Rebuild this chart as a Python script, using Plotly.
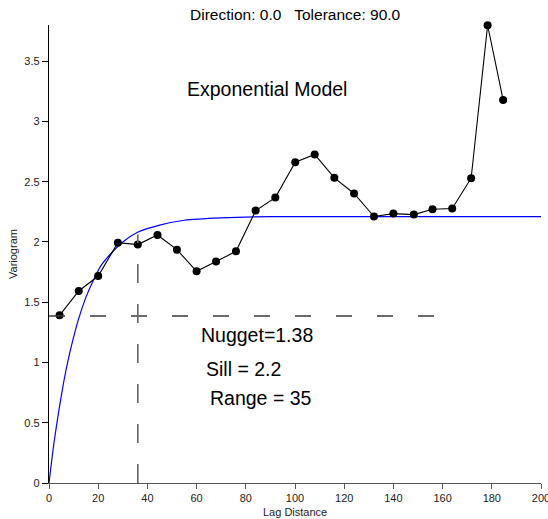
import plotly.graph_objects as go

# Experimental variogram (lag distance, variogram)
lag = [4.3, 12.1, 20.0, 28.0, 36.1, 44.1, 52.0, 60.0, 67.9, 76.0, 84.0, 92.0,
       100.1, 108.0, 116.0, 124.0, 132.1, 140.0, 148.3, 155.9, 163.9, 171.6,
       178.3, 184.6]
gamma = [1.391, 1.593, 1.717, 1.994, 1.978, 2.058, 1.936, 1.756, 1.837, 1.922,
         2.260, 2.368, 2.662, 2.726, 2.532, 2.402, 2.211, 2.235, 2.227, 2.271,
         2.277, 2.529, 3.798, 3.178]

# Exponential model curve
model_h = [0, 2, 4, 6, 8, 10, 12, 15, 18, 21, 25, 30, 36, 45, 55, 70, 90, 200]
model_g = [0, 0.33, 0.60, 0.84, 1.04, 1.21, 1.36, 1.54, 1.68, 1.80, 1.90, 2.00,
           2.08, 2.14, 2.18, 2.20, 2.21, 2.21]

nugget = 1.385
nugget_end = 158.3
range_x = 36.1
range_top = 2.061

x_ticks = [0, 20, 40, 60, 80, 100, 120, 140, 160, 180, 200]
y_ticks = [0, 0.5, 1, 1.5, 2, 2.5, 3, 3.5]

FONT = "Liberation Sans, Arial, sans-serif"

fig = go.Figure()

fig.add_trace(go.Scatter(x=model_h, y=model_g, mode="lines",
                         line=dict(color="#0000ff", width=1.2, shape="spline", smoothing=0.6),
                         hoverinfo="skip", showlegend=False))
fig.add_trace(go.Scatter(x=lag, y=gamma, mode="lines+markers",
                         line=dict(color="black", width=1.1),
                         marker=dict(color="black", size=8),
                         cliponaxis=False, showlegend=False))

# Dashed guide lines
fig.add_shape(type="line", x0=0, x1=nugget_end, y0=nugget, y1=nugget,
              xref="x", yref="y", line=dict(color="#3a3a3a", width=1.4, dash="16px,25px"))
fig.add_shape(type="line", x0=range_x, x1=range_x, y0=0, y1=range_top,
              xref="x", yref="y", line=dict(color="#666666", width=1.6, dash="19px,21px"))

ann_font = dict(family=FONT, size=19.5, color="black")
fig.add_annotation(x=88.7, y=3.267, text="Exponential Model", showarrow=False, font=ann_font,
                   xanchor="center", yanchor="middle")
fig.add_annotation(x=84.4, y=1.226, text="Nugget=1.38", showarrow=False, font=ann_font,
                   xanchor="center", yanchor="middle")
fig.add_annotation(x=79.2, y=0.944, text="Sill = 2.2", showarrow=False, font=ann_font,
                   xanchor="center", yanchor="middle")
fig.add_annotation(x=86.3, y=0.703, text="Range = 35", showarrow=False, font=ann_font,
                   xanchor="center", yanchor="middle")

# Title
fig.add_annotation(xref="paper", yref="paper", x=0.5, y=1, yshift=11,
                   text="Direction: 0.0&nbsp;&nbsp;&nbsp;Tolerance: 90.0", showarrow=False,
                   font=dict(family=FONT, size=15.5, color="black"),
                   xanchor="center", yanchor="middle")
# Axis titles
fig.add_annotation(xref="paper", yref="paper", x=0.5, y=0, yshift=-28.5,
                   text="Lag Distance", showarrow=False,
                   font=dict(family=FONT, size=11, color="#222"),
                   xanchor="center", yanchor="middle")
fig.add_annotation(xref="paper", yref="paper", x=0, y=0.5, xshift=-36,
                   text="Variogram", showarrow=False, textangle=-90,
                   font=dict(family=FONT, size=11, color="#222"),
                   xanchor="center", yanchor="middle")

fig.update_layout(
    width=548, height=519,
    margin=dict(l=49, r=7, t=25, b=36, pad=0, autoexpand=False),
    plot_bgcolor="white", paper_bgcolor="white",
    font=dict(family=FONT, size=11, color="#222"),
    showlegend=False,
)
fig.update_xaxes(range=[0, 200], tickvals=x_ticks, ticks="outside", ticklen=5,
                 tickcolor="#555", showline=True, linecolor="#555", linewidth=1.2,
                 showgrid=False, zeroline=False, ticklabeloverflow="allow",
                 automargin=False, tickfont=dict(size=11, color="#222"))
fig.update_yaxes(range=[0, 3.8], tickvals=y_ticks, ticks="outside", ticklen=6,
                 tickcolor="black", showline=True, linecolor="black", linewidth=1.4,
                 showgrid=False, zeroline=False, automargin=False,
                 tickfont=dict(size=11, color="#222"))

fig.write_html("out.html")
